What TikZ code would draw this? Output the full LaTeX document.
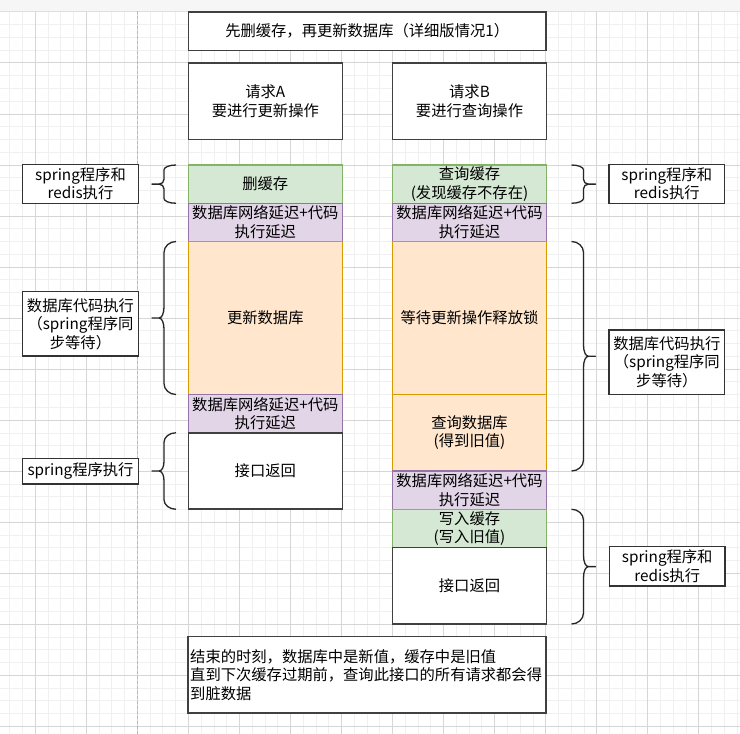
\documentclass[tikz,border=0pt]{standalone}
\usepackage{fontspec}
\setmainfont{Noto Sans CJK SC}
\usepackage{tikz}
\usetikzlibrary{positioning, calc}

\definecolor{cacheFill}{HTML}{D5E8D4}
\definecolor{cacheLine}{HTML}{82B366}
\definecolor{netFill}{HTML}{E1D5E7}
\definecolor{netLine}{HTML}{9673A6}
\definecolor{dbFill}{HTML}{FFE6CC}
\definecolor{dbLine}{HTML}{D79B00}

\begin{document}
\begin{tikzpicture}[x=1pt, y=-1pt,
            font=\fontsize{15.3}{18.5}\selectfont,
            gridminor/.style={draw=gray!12, line width=0.9pt},
            gridmajor/.style={draw=gray!32, line width=0.9pt},
            box/.style={rectangle, draw=black!75, line width=1.6pt, fill=white,
                        minimum width=154pt, align=center, inner sep=0pt, outer sep=0pt},
            cell/.style={rectangle, line width=1.3pt, minimum width=154pt,
                         minimum height=38.25pt, align=center, inner sep=0pt, outer sep=0pt},
            cachecell/.style={cell, fill=cacheFill, draw=cacheLine},
            netcell/.style={cell, fill=netFill, draw=netLine},
            dbcell/.style={cell, fill=dbFill, draw=dbLine},
            note/.style={rectangle, draw=black!80, line width=1.3pt, fill=white,
                         minimum width=115.5pt, align=center, inner sep=0pt},
            curly/.style={draw=black!85, line width=1.3pt, line join=round, to path={
                let \p1=(\tikztostart), \p2=(\tikztotarget),
                    \n1={min(11,(\y1-\y2)/8)}, \n2={(\y1+\y2)/2} in
                .. controls +({#1*6.6pt},0pt) and +(0pt,{0.55*\n1+0pt}) .. ({\x1+#1*12pt},{\y1-\n1+0pt})
                -- ({\x1+#1*12pt},{\n2+\n1+0pt})
                .. controls +(0pt,{-0.55*\n1+0pt}) and +({-#1*3pt},0pt) .. ({\x1+#1*17pt},{\n2+0pt})
                -- ({\x1+#1*24pt},{\n2+0pt}) -- ({\x1+#1*17pt},{\n2+0pt})
                .. controls +({-#1*3pt},0pt) and +(0pt,{0.55*\n1+0pt}) .. ({\x1+#1*12pt},{\n2-\n1+0pt})
                -- ({\x1+#1*12pt},{\y2+\n1+0pt})
                .. controls +(0pt,{-0.55*\n1+0pt}) and +({#1*6.6pt},0pt) .. (\tikztotarget)}}
        ]
            \useasboundingbox (0,0) rectangle (740,734);
            \fill[white] (0,0) rectangle (740,734);
            \foreach \k in {0,...,57}
                \draw[gridminor] ({9.8+12.76*\k},11) -- ({9.8+12.76*\k},734);
            \foreach \k in {0,...,56}
                \draw[gridminor] (0,{11.9+12.76*\k}) -- (740,{11.9+12.76*\k});
            \foreach \k in {-3,...,10}
                \draw[gridmajor] ({188.3+51.04*\k},11) -- ({188.3+51.04*\k},734);
            \foreach \k in {-3,...,11}
                \draw[gridmajor] (0,{165+51.04*\k}) -- (740,{165+51.04*\k});
            \fill[gray!7] (0,0) rectangle (740,11);
            \draw[gray!25, line width=0.9pt] (0,11) -- (740,11);
            \draw[gray!55, line width=1.3pt, dash pattern=on 3pt off 2pt] (137.6,11) -- (137.6,734);

            \node[box, minimum width=357.7pt, minimum height=38.6pt] (title) at (367.2,31) {先删缓存，再更新数据库（详细版情况1）};
            \node[box, minimum height=76.6pt] (reqA) at (265.3,101) {请求A\\要进行更新操作};
            \node[box, minimum height=76.6pt] (reqB) at (469.5,101) {请求B\\要进行查询操作};

            \node[cachecell] (delA) at (265.3,184.125) {删缓存};
            \node[netcell, below=0pt of delA] (netA1) {数据库网络延迟+代码\\执行延迟};
            \node[dbcell, minimum height=153pt, below=0pt of netA1] (updA) {更新数据库};
            \node[netcell, below=0pt of updA] (netA2) {数据库网络延迟+代码\\执行延迟};
            \node[box, minimum height=76.5pt, below=0pt of netA2] (retA) {接口返回};

            \node[cachecell] (qcacheB) at (469.5,184.125) {查询缓存\\(发现缓存不存在)};
            \node[netcell, below=0pt of qcacheB] (netB1) {数据库网络延迟+代码\\执行延迟};
            \node[dbcell, minimum height=153pt, below=0pt of netB1] (waitB) {等待更新操作释放锁};
            \node[dbcell, minimum height=76.5pt, below=0pt of waitB] (qdbB) {查询数据库\\(得到旧值)};
            \node[netcell, below=0pt of qdbB] (netB2) {数据库网络延迟+代码\\执行延迟};
            \node[cachecell, below=0pt of netB2] (wcacheB) {写入缓存\\(写入旧值)};
            \node[box, minimum height=76.5pt, below=0pt of wcacheB] (retB) {接口返回};

            \node[box, minimum width=357.7pt, minimum height=76.5pt, text width=354pt,
                  inner xsep=2pt, align=left] (summary) at (367.2,674.7)
                  {结束的时刻，数据库中是新值，缓存中是旧值\\直到下次缓存过期前，查询此接口的所有请求都会得\\到脏数据};

            \node[note, minimum height=39pt] (noteL1) at (80.5,183.8) {spring程序和\\redis执行};
            \node[note, minimum height=64.3pt] (noteL2) at (80.5,323.9) {数据库代码执行\\（spring程序同\\步等待）};
            \node[note, minimum height=25.7pt] (noteL3) at (80.5,471.2) {spring程序执行};
            \node[note, minimum height=39pt] (noteR1) at (666.8,183.8) {spring程序和\\redis执行};
            \node[note, minimum height=64.3pt] (noteR2) at (666.8,362.2) {数据库代码执行\\（spring程序同\\步等待）};
            \node[note, minimum height=39.3pt] (noteR3) at (667.2,566.3) {spring程序和\\redis执行};

            \draw[curly=-1] ([xshift=-12.3pt]delA.north west) to ([xshift=-12.3pt]delA.south west);
            \draw[curly=-1] ([xshift=-12.3pt]updA.north west) to ([xshift=-12.3pt]updA.south west);
            \draw[curly=-1] ([xshift=-12.3pt]retA.north west) to ([xshift=-12.3pt]retA.south west);
            \draw[curly=1] ([xshift=25pt]qcacheB.north east) to ([xshift=25pt]qcacheB.south east);
            \draw[curly=1] ([xshift=25pt]waitB.north east) to ([xshift=25pt]qdbB.south east);
            \draw[curly=1] ([xshift=25pt]wcacheB.north east) to ([xshift=25pt]retB.south east);
        \end{tikzpicture}
\end{document}
